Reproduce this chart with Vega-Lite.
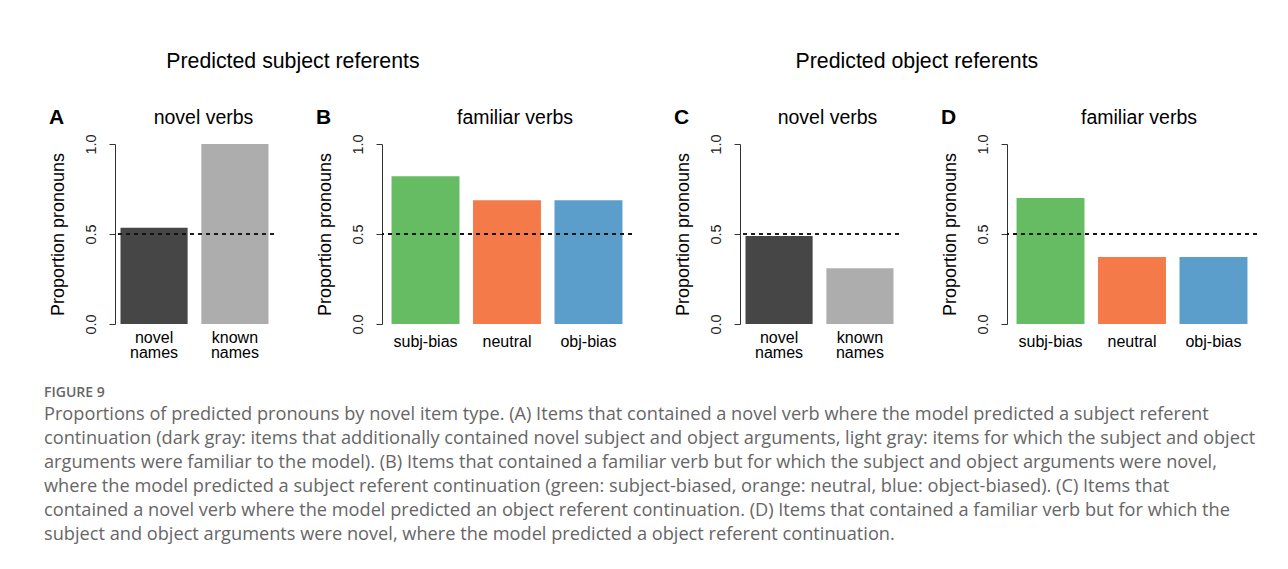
{
  "$schema": "https://vega.github.io/schema/vega-lite/v6.json",
  "background": "white",
  "padding": {"left": 44, "top": 51, "right": 5, "bottom": 5},
  "config": {
    "font": "Liberation Sans",
    "view": {"stroke": null},
    "title": {"font": "Liberation Sans", "color": "black", "fontWeight": "normal"},
    "axis": {"labelFont": "Liberation Sans", "titleFont": "Liberation Sans"}
  },
  "data": {
    "values": [
      {"panel": "A", "group": "novel names", "value": 0.535},
      {"panel": "A", "group": "known names", "value": 1.0},
      {"panel": "B", "group": "subj-bias", "value": 0.821},
      {"panel": "B", "group": "neutral", "value": 0.688},
      {"panel": "B", "group": "obj-bias", "value": 0.688},
      {"panel": "C", "group": "novel names", "value": 0.489},
      {"panel": "C", "group": "known names", "value": 0.31},
      {"panel": "D", "group": "subj-bias", "value": 0.70},
      {"panel": "D", "group": "neutral", "value": 0.372},
      {"panel": "D", "group": "obj-bias", "value": 0.372}
    ]
  },
  "title": {
    "text": "FIGURE 9",
    "subtitle": [
      "Proportions of predicted pronouns by novel item type. (A) Items that contained a novel verb where the model predicted a subject referent",
      "continuation (dark gray: items that additionally contained novel subject and object arguments, light gray: items for which the subject and object",
      "arguments were familiar to the model). (B) Items that contained a familiar verb but for which the subject and object arguments were novel,",
      "where the model predicted a subject referent continuation (green: subject-biased, orange: neutral, blue: object-biased). (C) Items that",
      "contained a novel verb where the model predicted an object referent continuation. (D) Items that contained a familiar verb but for which the",
      "subject and object arguments were novel, where the model predicted a object referent continuation."
    ],
    "orient": "bottom",
    "anchor": "start",
    "frame": "bounds",
    "dx": -5,
    "offset": 25,
    "font": "Open Sans",
    "fontSize": 14,
    "fontWeight": 600,
    "color": "#666666",
    "subtitleFont": "Open Sans",
    "subtitleFontSize": 18.2,
    "subtitleColor": "#666666",
    "subtitleLineHeight": 24,
    "subtitlePadding": 6
  },
  "spacing": 41,
  "hconcat": [
    {
      "title": {"text": "Predicted subject referents", "fontSize": 21.3, "anchor": "middle", "dx": -48, "offset": 35},
      "spacing": 41,
      "hconcat": [
        {
          "title": {"text": "A", "anchor": "start", "frame": "bounds", "fontSize": 21, "fontWeight": "bold", "dy": 24},
          "hconcat": [
            {
              "title": {"text": "novel verbs", "fontSize": 19.5, "dx": 9, "offset": 5},
              "width": 159, "height": 180,
              "transform": [{"filter": "datum.panel === 'A'"}],
              "layer": [
                {
                  "mark": {"type": "bar"},
                  "encoding": {
                    "x": {"field": "group", "type": "nominal", "sort": ["novel names", "known names"],
                      "scale": {"paddingInner": 0.17, "paddingOuter": 0.068},
                      "axis": {"title": null, "domain": false, "ticks": false, "tickSize": 0, "labelAngle": 0, "labelFontSize": 16, "labelColor": "black", "labelPadding": 13, "labelBaseline": "middle", "labelLineHeight": 15.5, "labelExpr": "split(datum.label, ' ')"}},
                    "y": {"field": "value", "type": "quantitative", "scale": {"domain": [0, 1], "nice": false},
                      "axis": {"values": [0, 0.5, 1], "format": ".1f", "grid": false, "labelAngle": -90, "labelAlign": "center", "labelBaseline": "bottom", "labelFontSize": 14.5, "labelColor": "#222222", "labelPadding": 11, "labelFlush": false, "labelOverlap": false, "tickSize": 6, "tickColor": "#333333", "domainColor": "#333333", "title": "Proportion pronouns", "titleFontSize": 18, "titleFontWeight": "normal", "titleColor": "black", "titlePadding": 16}},
                    "color": {"field": "group", "type": "nominal",
                      "scale": {"domain": ["novel names", "known names", "subj-bias", "neutral", "obj-bias"], "range": ["#464646", "#adadad", "#65bc63", "#f57a4a", "#5b9ecb"]},
                      "legend": null}
                  }
                },
                {"mark": {"type": "rule", "strokeDash": [4, 4], "strokeWidth": 1.6, "color": "#111111"}, "encoding": {"y": {"datum": 0.5}}}
              ]
            }
          ]
        },
        {
          "title": {"text": "B", "anchor": "start", "frame": "bounds", "fontSize": 21, "fontWeight": "bold", "dy": 24},
          "hconcat": [
            {
              "title": {"text": "familiar verbs", "fontSize": 19.5, "dx": 8, "offset": 5},
              "width": 250, "height": 180,
              "transform": [{"filter": "datum.panel === 'B'"}],
              "layer": [
                {
                  "mark": {"type": "bar"},
                  "encoding": {
                    "x": {"field": "group", "type": "nominal", "sort": ["subj-bias", "neutral", "obj-bias"],
                      "scale": {"paddingInner": 0.166, "paddingOuter": 0.117},
                      "axis": {"title": null, "domain": false, "ticks": false, "tickSize": 0, "labelAngle": 0, "labelFontSize": 16, "labelColor": "black", "labelPadding": 17, "labelBaseline": "middle", "labelLineHeight": 15.5, "labelExpr": "split(datum.label, ' ')"}},
                    "y": {"field": "value", "type": "quantitative", "scale": {"domain": [0, 1], "nice": false},
                      "axis": {"values": [0, 0.5, 1], "format": ".1f", "grid": false, "labelAngle": -90, "labelAlign": "center", "labelBaseline": "bottom", "labelFontSize": 14.5, "labelColor": "#222222", "labelPadding": 11, "labelFlush": false, "labelOverlap": false, "tickSize": 6, "tickColor": "#333333", "domainColor": "#333333", "title": "Proportion pronouns", "titleFontSize": 18, "titleFontWeight": "normal", "titleColor": "black", "titlePadding": 16}},
                    "color": {"field": "group", "type": "nominal",
                      "scale": {"domain": ["novel names", "known names", "subj-bias", "neutral", "obj-bias"], "range": ["#464646", "#adadad", "#65bc63", "#f57a4a", "#5b9ecb"]},
                      "legend": null}
                  }
                },
                {"mark": {"type": "rule", "strokeDash": [4, 4], "strokeWidth": 1.6, "color": "#111111"}, "encoding": {"y": {"datum": 0.5}}}
              ]
            }
          ]
        }
      ]
    },
    {
      "title": {"text": "Predicted object referents", "fontSize": 21.3, "anchor": "middle", "dx": -49, "offset": 35},
      "spacing": 41,
      "hconcat": [
        {
          "title": {"text": "C", "anchor": "start", "frame": "bounds", "fontSize": 21, "fontWeight": "bold", "dy": 24},
          "hconcat": [
            {
              "title": {"text": "novel verbs", "fontSize": 19.5, "dx": 8, "offset": 5},
              "width": 159, "height": 180,
              "transform": [{"filter": "datum.panel === 'C'"}],
              "layer": [
                {
                  "mark": {"type": "bar"},
                  "encoding": {
                    "x": {"field": "group", "type": "nominal", "sort": ["novel names", "known names"],
                      "scale": {"paddingInner": 0.17, "paddingOuter": 0.068},
                      "axis": {"title": null, "domain": false, "ticks": false, "tickSize": 0, "labelAngle": 0, "labelFontSize": 16, "labelColor": "black", "labelPadding": 13, "labelBaseline": "middle", "labelLineHeight": 15.5, "labelExpr": "split(datum.label, ' ')"}},
                    "y": {"field": "value", "type": "quantitative", "scale": {"domain": [0, 1], "nice": false},
                      "axis": {"values": [0, 0.5, 1], "format": ".1f", "grid": false, "labelAngle": -90, "labelAlign": "center", "labelBaseline": "bottom", "labelFontSize": 14.5, "labelColor": "#222222", "labelPadding": 11, "labelFlush": false, "labelOverlap": false, "tickSize": 6, "tickColor": "#333333", "domainColor": "#333333", "title": "Proportion pronouns", "titleFontSize": 18, "titleFontWeight": "normal", "titleColor": "black", "titlePadding": 16}},
                    "color": {"field": "group", "type": "nominal",
                      "scale": {"domain": ["novel names", "known names", "subj-bias", "neutral", "obj-bias"], "range": ["#464646", "#adadad", "#65bc63", "#f57a4a", "#5b9ecb"]},
                      "legend": null}
                  }
                },
                {"mark": {"type": "rule", "strokeDash": [4, 4], "strokeWidth": 1.6, "color": "#111111"}, "encoding": {"y": {"datum": 0.5}}}
              ]
            }
          ]
        },
        {
          "title": {"text": "D", "anchor": "start", "frame": "bounds", "fontSize": 21, "fontWeight": "bold", "dy": 24},
          "hconcat": [
            {
              "title": {"text": "familiar verbs", "fontSize": 19.5, "dx": 7, "offset": 5},
              "width": 250, "height": 180,
              "transform": [{"filter": "datum.panel === 'D'"}],
              "layer": [
                {
                  "mark": {"type": "bar"},
                  "encoding": {
                    "x": {"field": "group", "type": "nominal", "sort": ["subj-bias", "neutral", "obj-bias"],
                      "scale": {"paddingInner": 0.166, "paddingOuter": 0.117},
                      "axis": {"title": null, "domain": false, "ticks": false, "tickSize": 0, "labelAngle": 0, "labelFontSize": 16, "labelColor": "black", "labelPadding": 17, "labelBaseline": "middle", "labelLineHeight": 15.5, "labelExpr": "split(datum.label, ' ')"}},
                    "y": {"field": "value", "type": "quantitative", "scale": {"domain": [0, 1], "nice": false},
                      "axis": {"values": [0, 0.5, 1], "format": ".1f", "grid": false, "labelAngle": -90, "labelAlign": "center", "labelBaseline": "bottom", "labelFontSize": 14.5, "labelColor": "#222222", "labelPadding": 11, "labelFlush": false, "labelOverlap": false, "tickSize": 6, "tickColor": "#333333", "domainColor": "#333333", "title": "Proportion pronouns", "titleFontSize": 18, "titleFontWeight": "normal", "titleColor": "black", "titlePadding": 16}},
                    "color": {"field": "group", "type": "nominal",
                      "scale": {"domain": ["novel names", "known names", "subj-bias", "neutral", "obj-bias"], "range": ["#464646", "#adadad", "#65bc63", "#f57a4a", "#5b9ecb"]},
                      "legend": null}
                  }
                },
                {"mark": {"type": "rule", "strokeDash": [4, 4], "strokeWidth": 1.6, "color": "#111111"}, "encoding": {"y": {"datum": 0.5}}}
              ]
            }
          ]
        }
      ]
    }
  ]
}
